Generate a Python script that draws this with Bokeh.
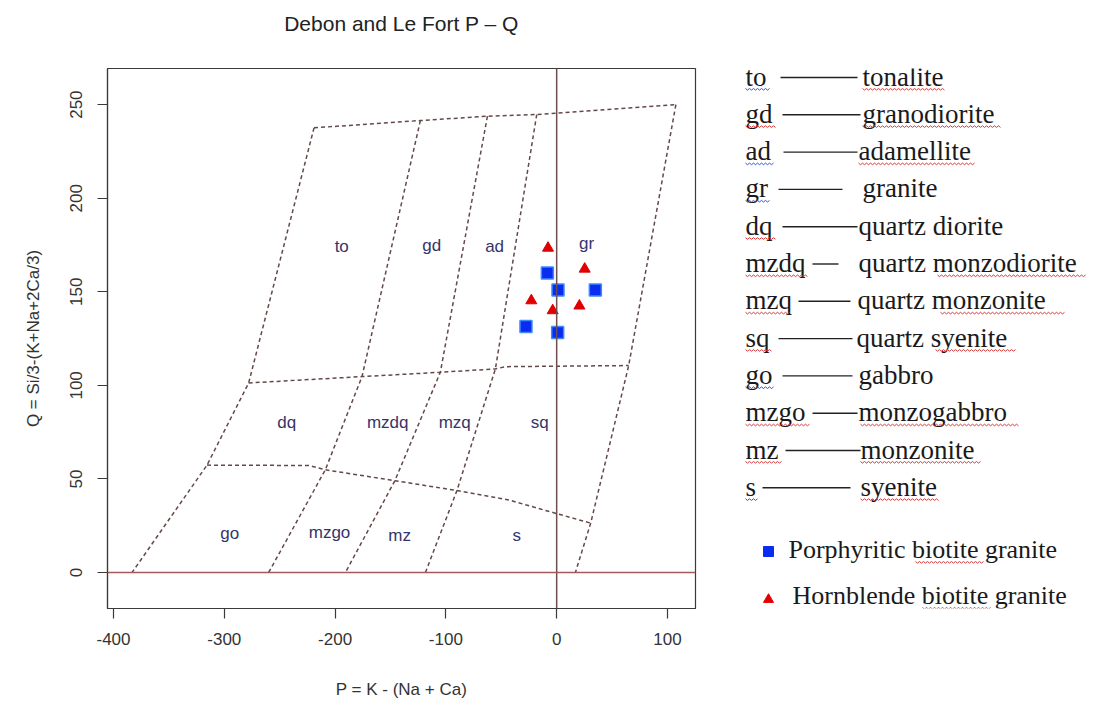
from bokeh.plotting import figure
from bokeh.models import Range1d, FixedTicker, Span, LinearAxis
from bokeh.layouts import row
from bokeh.embed import file_html
from bokeh.resources import INLINE
from bokeh.core.properties import value
import numpy as np

# ---- Debon & Le Fort P-Q field boundaries (P, Q) ----
top_P = [-219, -123, -62.5, -18, 107.6]
top_Q = [237.6, 241.5, 243.8, 244.7, 250]
mid_P = [-278, -175.7, -105, -55.3, -46, 65]
mid_Q = [101.3, 104.7, 107, 108.8, 110, 110.6]
low_P = [-315.6, -223.8, -208.8, -146, -90, -43.3, 0, 30.7]
low_Q = [57.4, 57.2, 54.9, 49.1, 43.8, 38.8, 31.5, 26.4]
left_P = [-219, -278, -315.6, -383.3]
left_Q = [237.6, 101.3, 57.4, 0]
to_gd_P = [-123, -175.7, -208.8, -260]
to_gd_Q = [241.5, 104.7, 54.9, 0]
gd_ad_P = [-62.5, -105, -146, -190.7]
gd_ad_Q = [243.8, 107, 49.1, 0]
ad_gr_P = [-18, -55.3, -90, -118.5]
ad_gr_Q = [244.7, 108.8, 43.8, 0]
right_P = [107.6, 65, 30.7, 16.9]
right_Q = [250, 110.6, 26.4, 0]

# field names and where they are written
field_names = ["to", "gd", "ad", "gr", "dq", "mzdq", "mzq", "sq", "go", "mzgo", "mz", "s"]
field_P = [-194, -112.8, -56, 27, -243.7, -152.5, -92, -15.3, -295, -205, -141.7, -36]
field_Q = [174, 174.7, 174, 175.7, 80, 80, 80, 80, 20.8, 21.4, 19.8, 19.8]

# samples
porph_P = [-8.4, 1.2, 34.9, -27.7, 0.9]
porph_Q = [160.1, 151, 151, 131.4, 128.2]
hbl_P = [-7.8, 25.3, -22.9, -3.6, 20.5]
hbl_Q = [173.4, 162.2, 145.3, 140, 142.5]

x_ticks = [-400, -300, -200, -100, 0, 100]
x_tick_labels = ["-400", "-300", "-200", "-100", "0", "100"]
y_ticks = [0, 50, 100, 150, 200, 250]
y_tick_labels = ["0", "50", "100", "150", "200", "250"]

# key: abbreviation -> rock name
key_abbr = field_names
key_names = ["tonalite", "granodiorite", "adamellite", "granite", "quartz diorite",
             "quartz monzodiorite", "quartz monzonite", "quartz syenite", "gabbro",
             "monzogabbro", "monzonite", "syenite"]
series_names = ["Porphyritic biotite granite", "Hornblende biotite granite"]

SANS = value("Liberation Sans")
SERIF = value("Liberation Serif")

p = figure(width=720, height=709,
           x_range=Range1d(-405.4, 125.3), y_range=Range1d(-19.2, 269.3),
           output_backend="svg", toolbar_location=None,
           min_border_left=107, min_border_right=25,
           min_border_top=68, min_border_bottom=101)

p.grid.visible = False
p.outline_line_color = "#3a3a3a"
p.outline_line_width = 1.2
p.background_fill_color = "white"
p.border_fill_color = "white"

for ax in (p.xaxis[0], p.yaxis[0]):
    ax.axis_line_color = "#3a3a3a"
    ax.axis_line_width = 1.2
    ax.major_tick_line_color = "#3a3a3a"
    ax.major_tick_line_width = 1.2
    ax.major_tick_out = 10
    ax.major_tick_in = 0
    ax.minor_tick_line_color = None
    ax.major_label_text_font = "Liberation Sans"
    ax.major_label_text_font_size = "17px"
    ax.major_label_text_color = "#333333"
    ax.axis_label_text_font = "Liberation Sans"
    ax.axis_label_text_font_size = "17px"
    ax.axis_label_text_font_style = "normal"
    ax.axis_label_text_color = "#333333"

p.xaxis.ticker = FixedTicker(ticks=x_ticks)
p.xaxis.major_label_overrides = dict(zip(x_ticks, x_tick_labels))
p.xaxis.major_label_standoff = 14
p.xaxis.axis_label = "P = K - (Na + Ca)"
p.xaxis.axis_label_standoff = 32

p.yaxis.ticker = FixedTicker(ticks=y_ticks)
p.yaxis.major_label_overrides = dict(zip(y_ticks, y_tick_labels))
p.yaxis.major_label_orientation = "vertical"
p.yaxis.major_label_standoff = 15
p.yaxis.axis_label = "Q = Si/3-(K+Na+2Ca/3)"
p.yaxis.axis_label_standoff = 25

# title drawn as the label of a bare axis above the frame
title_axis = LinearAxis(ticker=FixedTicker(ticks=[]), axis_label="Debon and Le Fort P \u2013 Q",
                        axis_line_color=None, major_tick_line_color=None,
                        minor_tick_line_color=None, major_tick_out=0, major_tick_in=0,
                        major_label_standoff=0, axis_label_standoff=34,
                        axis_label_text_font="Liberation Sans", axis_label_text_font_size="21px",
                        axis_label_text_font_style="normal", axis_label_text_color="#222222")
p.add_layout(title_axis, "above")

# zero lines
p.add_layout(Span(location=0, dimension="height", line_color="#6e4e4e", line_width=1.5))
p.add_layout(Span(location=0, dimension="width", line_color="#a35a5a", line_width=1.5))

# dashed field boundaries
xs = [top_P, mid_P, low_P, left_P, to_gd_P, gd_ad_P, ad_gr_P, right_P]
ys = [top_Q, mid_Q, low_Q, left_Q, to_gd_Q, gd_ad_Q, ad_gr_Q, right_Q]
p.multi_line(xs=xs, ys=ys, line_color="#654848", line_width=1.5, line_dash="4 3")

p.text(x=field_P, y=field_Q, text=field_names, text_font=SANS, text_font_size="17px",
       text_color="#34346c", text_align="center", text_baseline="middle")

p.scatter(porph_P, porph_Q, marker="square", size=12, fill_color="#0a2cf0",
          line_color="#3d8bff", line_width=1.5)
p.scatter(hbl_P, hbl_Q, marker="triangle", size=11, fill_color="#e00000",
          line_color="#e00000")

# ---- key panel: coordinates are page pixels (y downward), frame spans 68..608 ----
k = figure(width=377, height=709, x_range=Range1d(720, 1097), y_range=Range1d(608, 68),
           output_backend="svg", toolbar_location=None,
           min_border=0, x_axis_location=None, y_axis_location=None)
k.grid.visible = False
k.outline_line_color = None
k.background_fill_color = "white"
k.border_fill_color = "white"

row_y0, row_step = 77.0, 37.3
dash_y = [row_y0 + row_step * i for i in range(len(key_abbr))]
text_y = [d - 1 for d in dash_y]
line_y = [d + 11 for d in dash_y]
dash_x0 = [780, 782, 783, 778, 782, 812, 798, 778, 782, 812, 785, 762]
dash_x1 = [857, 860, 857, 842, 857, 838, 850, 852, 852, 857, 860, 850]
name_x = [862, 862, 858, 862, 858, 858, 857, 856, 858, 858, 860, 860]

k.text(x=[745] * len(key_abbr), y=text_y, text=key_abbr, text_font=SERIF,
       text_font_size="27px", text_color="#1a1a1a", text_baseline="alphabetic")
k.segment(x0=dash_x0, y0=dash_y, x1=dash_x1, y1=dash_y, line_color="#222222", line_width=1.4)
k.text(x=name_x, y=text_y, text=key_names, text_font=SERIF,
       text_font_size="27px", text_color="#1a1a1a", text_baseline="alphabetic")

# spell-check style wavy underlines: (row, x start, x end, colour)
RED, BLUE = "#d23c3c", "#3a4fd0"
under = [(0, 745, 770, BLUE), (0, 862, 945, RED),
         (1, 745, 775, RED), (1, 862, 1000, RED),
         (2, 745, 773, BLUE), (2, 858, 975, RED),
         (3, 745, 770, BLUE),
         (4, 745, 775, RED),
         (5, 745, 808, RED), (5, 937, 1085, RED),
         (6, 745, 790, RED), (6, 940, 1064, RED),
         (7, 745, 772, RED), (7, 935, 1015, RED),
         (8, 745, 773, BLUE),
         (9, 745, 810, RED), (9, 860, 1018, RED),
         (10, 745, 781, RED), (10, 860, 980, RED),
         (11, 745, 757, BLUE), (11, 860, 938, RED)]
wx, wy, wc = [], [], []
for r, a, b, c in under:
    xx = np.arange(a, b + 1, 2.0)
    yy = line_y[r] + np.where(np.arange(len(xx)) % 2 == 0, 0.0, 1.6)
    wx.append(list(xx)); wy.append(list(yy)); wc.append(c)

leg_mark_y = [551, 599]
leg_text_y = [549, 595]
leg_text_x = [788, 792]
k.scatter([768], [leg_mark_y[0]], marker="square", size=10, fill_color="#0a2cf0",
          line_color="#0a2cf0")
k.scatter([768], [leg_mark_y[1]], marker="triangle", size=10, fill_color="#e00000",
          line_color="#e00000")
k.text(x=leg_text_x, y=leg_text_y, text=series_names, text_font=SERIF,
       text_font_size="26px", text_color="#1a1a1a", text_baseline="alphabetic")
for i, (a, b) in enumerate([(915, 983), (922, 990)]):
    xx = np.arange(a, b + 1, 2.0)
    yy = leg_text_y[i] + 12 + np.where(np.arange(len(xx)) % 2 == 0, 0.0, 1.6)
    wx.append(list(xx)); wy.append(list(yy)); wc.append(RED)

k.multi_line(xs=wx, ys=wy, line_color=wc, line_width=1)

layout = row(p, k)
open("out.html", "w").write(file_html(layout, INLINE))
